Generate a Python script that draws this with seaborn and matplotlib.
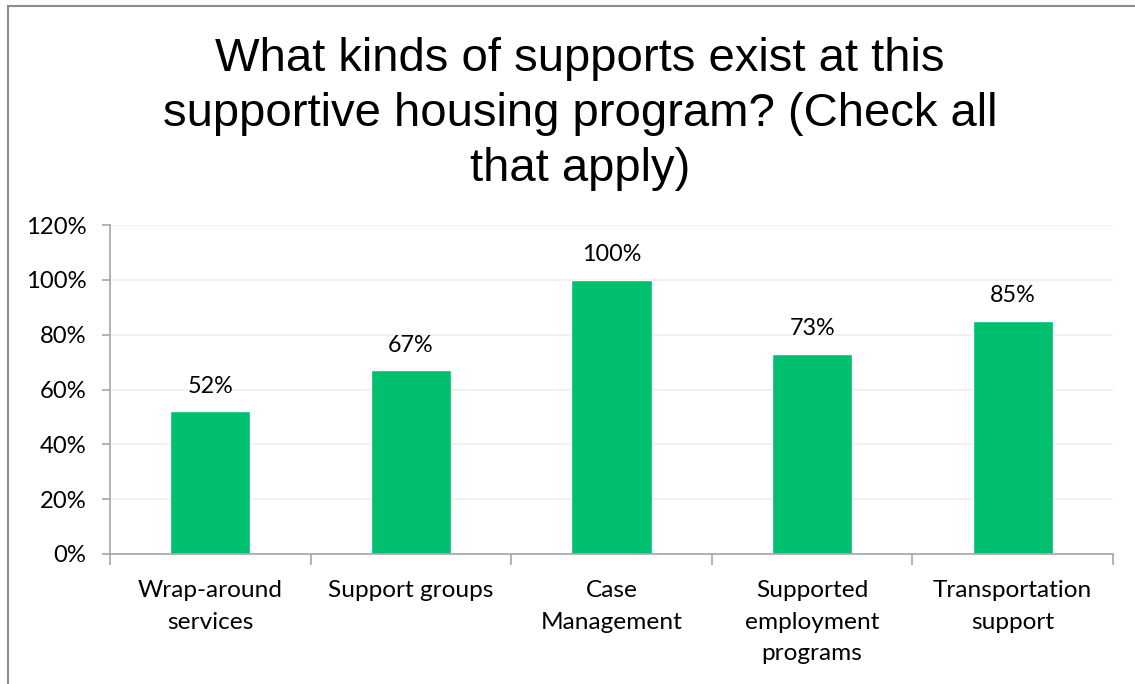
import matplotlib
matplotlib.use("Agg")
import matplotlib.pyplot as plt
import seaborn as sns
import pandas as pd
from matplotlib.patches import Rectangle
from matplotlib.ticker import FixedLocator

categories = ["Wrap-around\nservices", "Support groups", "Case\nManagement",
              "Supported\nemployment\nprograms", "Transportation\nsupport"]
values = [0.52, 0.67, 1.00, 0.73, 0.85]
value_labels = ["52%", "67%", "100%", "73%", "85%"]
yticks = [0, 0.2, 0.4, 0.6, 0.8, 1.0, 1.2]
ytick_labels = ["0%", "20%", "40%", "60%", "80%", "100%", "120%"]
title = "What kinds of supports exist at this\nsupportive housing program? (Check all\nthat apply)"

sns.set_style("white")
plt.rcParams["font.family"] = ["Lato", "DejaVu Sans"]
plt.rcParams["text.color"] = "black"
plt.rcParams["xtick.color"] = "black"
plt.rcParams["ytick.color"] = "black"

fig = plt.figure(figsize=(11.35, 6.84), dpi=100)
ax = fig.add_axes([110/1135, 1 - 554/684, (1113-110)/1135, (554-225)/684])

df = pd.DataFrame({"cat": categories, "val": values})
sns.barplot(data=df, x="cat", y="val", color="#00bf6f", saturation=1, width=0.4, ax=ax)

ax.set_ylim(0, 1.2)
ax.set_xlim(-0.5, len(categories) - 0.5)
ax.set_yticks(yticks)
ax.set_yticklabels(ytick_labels)
ax.set_xticks(range(len(categories)))
ax.set_xticklabels(categories, linespacing=1.62)
ax.yaxis.grid(True, color="#efefef", linewidth=1.2)
ax.set_axisbelow(True)
ax.set_xlabel("")
ax.set_ylabel("")

for s in ["top", "right"]:
    ax.spines[s].set_visible(False)
for s in ["left", "bottom"]:
    ax.spines[s].set_color("#a6a6a6")
    ax.spines[s].set_linewidth(1.2)

ax.tick_params(axis="y", length=6, color="#a6a6a6", width=1.2, labelsize=17.2, pad=11,
               left=True, labelcolor="black")
ax.tick_params(axis="x", which="major", length=0, labelsize=17.6, pad=19, labelcolor="black")
ax.xaxis.set_minor_locator(FixedLocator([i - 0.5 for i in range(len(categories) + 1)]))
ax.tick_params(axis="x", which="minor", length=8, color="#a6a6a6", width=1.2, bottom=True)

for i, (v, t) in enumerate(zip(values, value_labels)):
    ax.annotate(t, (i, v), xytext=(0, 10.5), textcoords="offset points",
                ha="center", va="bottom", fontsize=16.8, color="black")

fig.text(580/1135, 1 - 37/684, title, ha="center", va="top", color="black",
         fontsize=34, family=["Liberation Sans", "DejaVu Sans"], linespacing=1.32)

fig.patches.append(Rectangle((8/1135, -0.05), 1.2, 1.05 - 6/684, transform=fig.transFigure,
                             fill=False, edgecolor="#8c8c8c", linewidth=1.5))

fig.savefig("out.png", dpi=100)
